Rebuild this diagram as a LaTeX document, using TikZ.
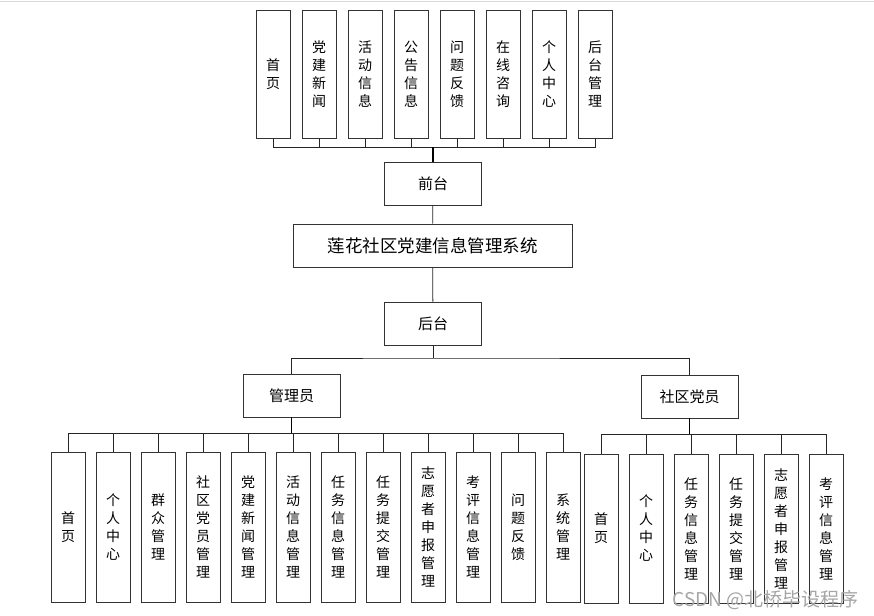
\documentclass[tikz,border=0pt]{standalone}
\usepackage{fontspec}
\setmainfont{Noto Sans CJK SC}
\usetikzlibrary{positioning}
\tikzset{
  vbox/.style={draw=black!80, fill=white, line width=0.8pt, minimum width=34pt, minimum height=128pt, inner sep=0pt, align=center, font=\fontsize{14}{18}\selectfont},
  hbox/.style={draw=black!80, fill=white, line width=0.8pt, minimum width=97pt, minimum height=43pt, inner sep=0pt, font=\fontsize{15}{16}\selectfont},
  link/.style={draw=black!85, line width=0.8pt},
  trunk/.style={draw=black, line width=1.8pt},
}

\begin{document}
\begin{tikzpicture}[x=1pt,y=-1pt]
  \useasboundingbox (0,0) rectangle (874,615);
  \fill[white] (0,0) rectangle (874,615);
  \draw[black!15] (0,1.5) -- (874,1.5);

  % main column
  \node[hbox] (qiantai) at (433,184) {前台};
  \node[hbox, minimum width=279pt, font=\fontsize{17.5}{18}\selectfont] (sys) at (432.5,245.5) {莲花社区党建信息管理系统};
  \node[hbox] (houtai) at (433,323.5) {后台};
  \node[hbox] (admin) at (291.5,395.5) {管理员};
  \node[hbox] (member) at (689.5,396.5) {社区党员};

  % front pages
  \coordinate (qbus) at (433,147);
  \foreach \lbl [count=\i] in {首\\页, 党\\建\\新\\闻, 活\\动\\信\\息, 公\\告\\信\\息, 问\\题\\反\\馈, 在\\线\\咨\\询, 个\\人\\中\\心, 后\\台\\管\\理}{
    \node[vbox] (q\i) at ({273+46*(\i-1)},74) {\lbl};
    \draw[link] (q\i.south) |- (qbus);
  }
  \draw[trunk] (qiantai) -- (qbus);

  \draw[link] (qiantai) -- (sys);
  \draw[link] (sys) -- (houtai);
  \coordinate (hbus) at (433,358);
  \draw[link] (houtai) -- (hbus);
  \draw[link] (admin.north) |- (hbus) -| (member.north);

  % admin modules
  \coordinate (abus) at (291.5,433);
  \foreach \lbl [count=\i] in {首\\页, 个\\人\\中\\心, 群\\众\\管\\理, 社\\区\\党\\员\\管\\理, 党\\建\\新\\闻\\管\\理, 活\\动\\信\\息\\管\\理, 任\\务\\信\\息\\管\\理, 任\\务\\提\\交\\管\\理, 志\\愿\\者\\申\\报\\管\\理, 考\\评\\信\\息\\管\\理, 问\\题\\反\\馈, 系\\统\\管\\理}{
    \node[vbox, minimum height=150pt] (a\i) at ({68+45*(\i-1)},527) {\lbl};
    \draw[link] (a\i.north) |- (abus);
  }
  \draw[trunk] (admin) -- (abus);

  % member modules
  \coordinate (mbus) at (689.5,434);
  \foreach \lbl [count=\i] in {首\\页, 个\\人\\中\\心, 任\\务\\信\\息\\管\\理, 任\\务\\提\\交\\管\\理, 志\\愿\\者\\申\\报\\管\\理, 考\\评\\信\\息\\管\\理}{
    \node[vbox, minimum height=149pt] (m\i) at ({601+45*(\i-1)},528.5) {\lbl};
    \draw[link] (m\i.north) |- (mbus);
  }
  \draw[trunk] (member) -- (mbus);

  \node[text=black!35, font=\fontsize{19}{19}\selectfont, anchor=east, inner sep=0pt] (mark) at (859,600) {CSDN @北桥毕设程序};
\end{tikzpicture}
\end{document}
